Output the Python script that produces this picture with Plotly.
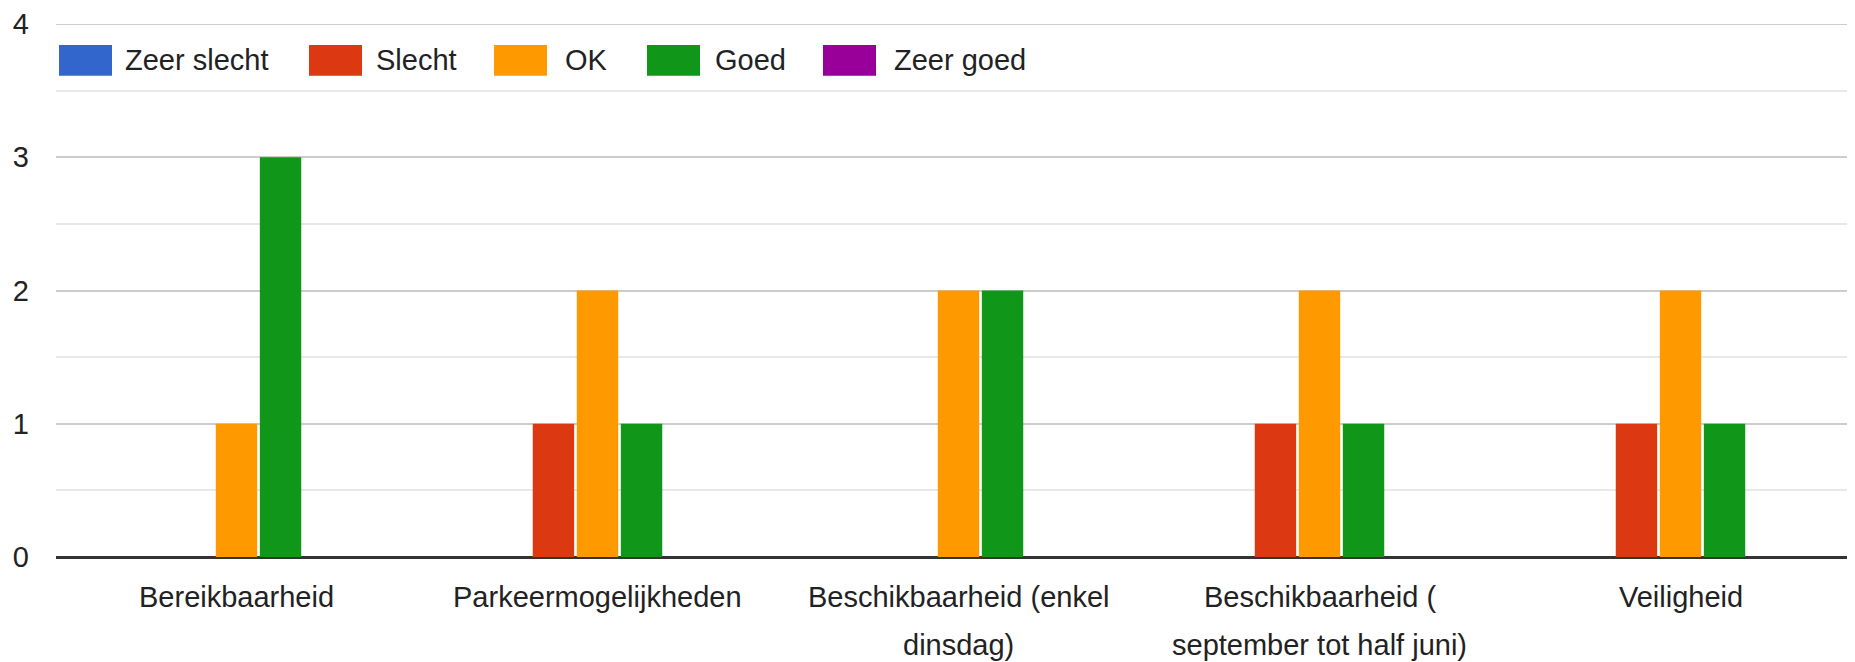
import plotly.graph_objects as go

categories = [
    "Bereikbaarheid",
    "Parkeermogelijkheden",
    "Beschikbaarheid (enkel<br>dinsdag)",
    "Beschikbaarheid (<br>september tot half juni)",
    "Veiligheid",
]
series_names = ["Zeer slecht", "Slecht", "OK", "Goed", "Zeer goed"]
zeer_slecht = [0, 0, 0, 0, 0]
slecht = [0, 1, 0, 1, 1]
ok = [1, 2, 2, 2, 2]
goed = [3, 1, 2, 1, 1]
zeer_goed = [0, 0, 0, 0, 0]
y_ticks = [0, 1, 2, 3, 4]

series_values = [zeer_slecht, slecht, ok, goed, zeer_goed]
colors = ["#3366CC", "#DC3912", "#FF9900", "#109618", "#990099"]

FONT = "Liberation Sans, Arial, sans-serif"
TXT = "#222222"
FS = 29
OFF = 8  # page body margin offset
W, H = 1855 - OFF, 662 - OFF
ML, MT, MB, MR = 56 - OFF, 21 - OFF, 105, 0
PW = W - ML - MR
PH = H - MT - MB
Y_MAX = y_ticks[-1]

x_idx = list(range(len(categories)))

fig = go.Figure()
for name, vals, col in zip(series_names, series_values, colors):
    fig.add_trace(go.Bar(x=x_idx, y=vals, name=name, marker_color=col,
                         marker_line_width=0, showlegend=False))

# x category labels as annotations (to match line spacing)
annotations = []
for i, lab in enumerate(categories):
    for j, line in enumerate(lab.split("<br>")):
        annotations.append(dict(
            x=i, xref="x", y=0, yref="paper", yanchor="middle", xanchor="center",
            yshift=-40 - 48 * j, text=line, showarrow=False,
            font=dict(family=FONT, size=FS, color=TXT)))

# custom legend (large swatches like the reference); pixel positions in window coords
legend_swatch_x = [59, 309, 494, 647, 823]
legend_text_x = [123, 374, 563, 713, 892]
shapes = []
def px2paper_x(p):
    return (p - OFF - ML) / PW
def px2paper_y(p):
    return (H - MB - (p - OFF)) / PH
for name, col, sx, tx in zip(series_names, colors, legend_swatch_x, legend_text_x):
    shapes.append(dict(type="rect", xref="paper", yref="paper",
                       x0=px2paper_x(sx), x1=px2paper_x(sx + 53),
                       y0=px2paper_y(73), y1=px2paper_y(42),
                       fillcolor=col, line=dict(width=0), layer="above"))
    annotations.append(dict(x=px2paper_x(tx), xref="paper", y=px2paper_y(57.5), yref="paper",
                            xanchor="left", yanchor="middle", text=name, showarrow=False,
                            font=dict(family=FONT, size=FS, color=TXT)))

# top gridline (Plotly drops the gridline at the range edge)
shapes.append(dict(type="line", xref="paper", yref="y", x0=0, x1=1, y0=Y_MAX, y1=Y_MAX,
                   line=dict(color="#cccccc", width=2), layer="below"))

fig.update_layout(
    width=W, height=H,
    margin=dict(l=ML, r=MR, t=MT, b=MB, pad=0),
    paper_bgcolor="white", plot_bgcolor="white",
    barmode="group", bargap=0.39, bargroupgap=0.06,
    font=dict(family=FONT, size=FS, color=TXT),
    annotations=annotations, shapes=shapes,
)
fig.update_xaxes(range=[-0.5, -0.5 + PW / 361.0], showticklabels=False,
                 showgrid=False, zeroline=False, showline=False, ticks="")
fig.update_yaxes(range=[0, Y_MAX], tickvals=y_ticks, ticktext=[str(v) for v in y_ticks],
                 showgrid=True, gridcolor="#cccccc", gridwidth=2,
                 minor=dict(dtick=0.5, showgrid=True, gridcolor="#e8e8e8", gridwidth=2),
                 zeroline=True, zerolinecolor="#333333", zerolinewidth=3,
                 showline=False, ticks="", ticklabelstandoff=26,
                 ticklabeloverflow="allow",
                 tickfont=dict(family=FONT, size=FS, color=TXT))

fig.write_html("out.html")
